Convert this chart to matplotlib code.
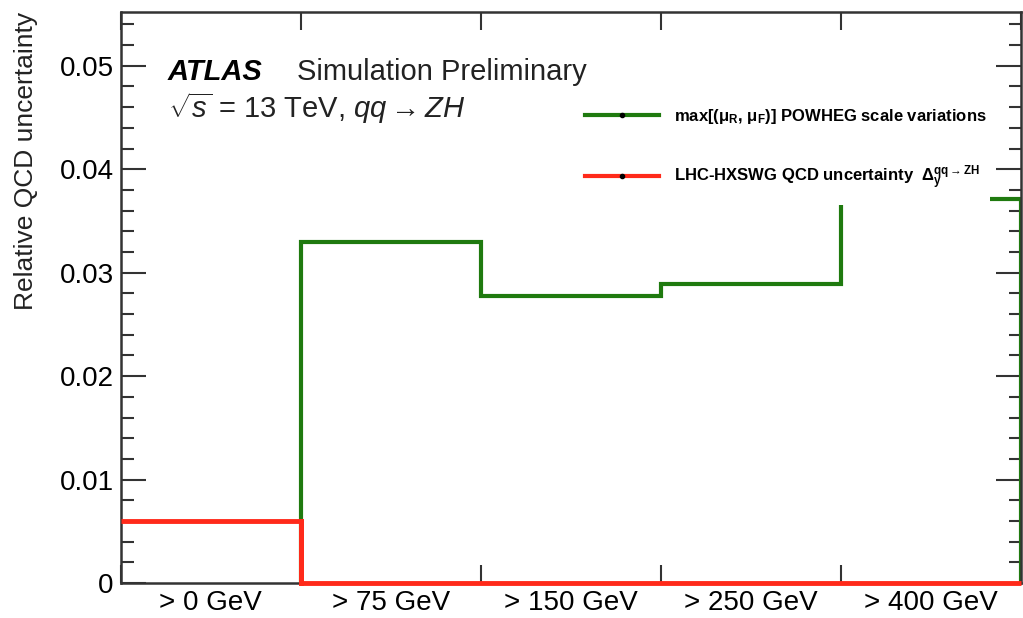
import numpy as np
import matplotlib.pyplot as plt
from matplotlib.patches import Rectangle
from matplotlib.ticker import MultipleLocator

plt.rcParams['font.family'] = ['Liberation Sans', 'DejaVu Sans']
plt.rcParams['mathtext.fontset'] = 'custom'
plt.rcParams['mathtext.rm'] = 'Liberation Sans'
plt.rcParams['mathtext.it'] = 'Liberation Sans:italic'
plt.rcParams['mathtext.bf'] = 'Liberation Sans:bold'

# Bins and values
bin_labels = ['> 0 GeV', '> 75 GeV', '> 150 GeV', '> 250 GeV', '> 400 GeV']
edges = np.arange(len(bin_labels) + 1)
powheg_scale = [0.0, 0.0330, 0.0277, 0.0289, 0.0371]
lhc_hxswg = [0.0060, 0.0, 0.0, 0.0, 0.0]

green = '#1f7a0f'
red = '#ff2a1a'
axis_col = '#333333'

fig = plt.figure(figsize=(10.23, 6.18), dpi=100)
ax = fig.add_axes([0.118, 0.0566, 0.880, 0.924])

# green step starts at the second bin, rising from zero
ax.stairs(powheg_scale[1:], edges[1:], baseline=0, color=green, lw=3, zorder=2)
ax.stairs(lhc_hxswg, edges, baseline=None, color=red, lw=3.5, zorder=7, clip_on=False)
ax.plot([1, 1], [lhc_hxswg[0], 0], color=red, lw=3.5, zorder=7, clip_on=False)

# legend handles (line with small dot)
h1, = ax.plot([], [], color=green, lw=3, marker='o', ms=3, mfc='black', mec='black')
h2, = ax.plot([], [], color=red, lw=3, marker='o', ms=3, mfc='black', mec='black')

# white legend box hides lines behind it
ax.add_patch(Rectangle((0.504, 0.662), 0.462, 0.2, transform=ax.transAxes,
                       facecolor='white', edgecolor='none', zorder=4))
leg = ax.legend([h1, h2],
                [r'max[($\mathbf{\mu_R}$, $\mathbf{\mu_F}$)] POWHEG scale variations',
                 r'LHC-HXSWG QCD uncertainty  $\mathbf{\Delta_y^{qq\rightarrow ZH}}$'],
                loc='upper left', bbox_to_anchor=(0.516, 0.834), frameon=False,
                fontsize=12, handlelength=4.4, labelspacing=2.3, handletextpad=0.9,
                borderpad=0, borderaxespad=0)
leg.set_zorder(5)
for t in leg.get_texts():
    t.set_fontweight('bold')

ax.set_xlim(0, 5)
ax.set_ylim(0, 0.0552)

ax.set_xticks(edges)
ax.set_xticklabels([])
ax.set_xticks(np.arange(5) + 0.5, minor=True)
ax.set_xticklabels(bin_labels, minor=True, fontsize=20)
ax.tick_params(axis='x', which='major', direction='in', length=13, width=1.5,
               top=True, bottom=True, color=axis_col)
ax.tick_params(axis='x', which='minor', length=0, pad=5)

ax.yaxis.set_major_locator(MultipleLocator(0.01))
ax.yaxis.set_minor_locator(MultipleLocator(0.002))
ax.set_yticks([0, 0.01, 0.02, 0.03, 0.04, 0.05])
ax.set_yticklabels(['0', '0.01', '0.02', '0.03', '0.04', '0.05'], fontsize=20)
ax.tick_params(axis='y', which='major', direction='in', length=18, width=1.5,
               left=True, right=True, pad=5, color=axis_col)
ax.tick_params(axis='y', which='minor', direction='in', length=9, width=1.5,
               left=True, right=True, color=axis_col)
ax.set_ylabel('Relative QCD uncertainty', fontsize=19, loc='top', color='#222222')
ax.yaxis.set_label_coords(-0.092, 1.0)

for s in ax.spines.values():
    s.set_linewidth(1.8)
    s.set_color(axis_col)
    s.set_zorder(6)

ax.text(0.052, 0.881, 'ATLAS', transform=ax.transAxes, fontsize=21,
        fontweight='bold', fontstyle='italic', va='baseline')
ax.text(0.196, 0.881, 'Simulation Preliminary', transform=ax.transAxes,
        fontsize=21, va='baseline', color='#222222')
ax.text(0.052, 0.815, r'$\sqrt{s}$ = 13 TeV, $qq\rightarrow ZH$',
        transform=ax.transAxes, fontsize=21, va='baseline', color='#222222')

fig.savefig('out.png', dpi=100)
